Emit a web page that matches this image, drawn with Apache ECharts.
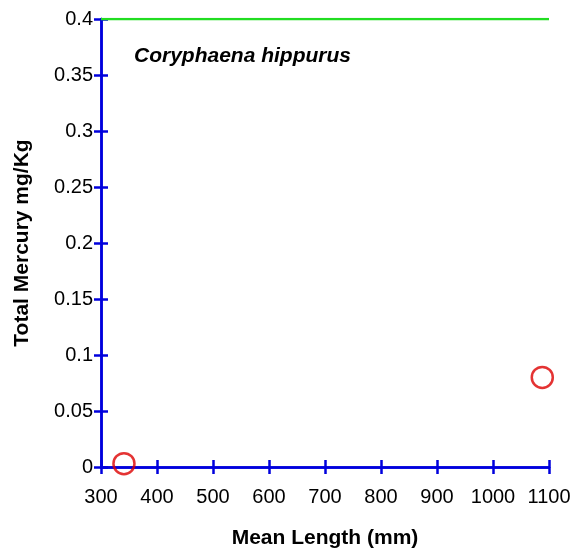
<!DOCTYPE html>
<html>
<head>
<meta charset="utf-8">
<script src="https://cdn.jsdelivr.net/npm/echarts@6/dist/echarts.min.js"></script>
<style>
  html, body { margin: 0; padding: 0; background: #fff; }
  #myChart { width: 576px; height: 550px; }
</style>
</head>
<body>
<div id="myChart"></div>
<script>
  // mean length (mm) and total mercury (mg/Kg)
  var lengths = [341, 1088];
  var mercury = [0.003, 0.08];
  var limitLine = [[300, 0.4], [1100, 0.4]];
  var xTicks = [300, 1100, 100];
  var yTicks = [0, 0.4, 0.05];

  var points = [];
  for (var i = 0; i < lengths.length; i++) {
    points.push([lengths[i], mercury[i]]);
  }

  var blue = '#0000dd';
  var font = 'Liberation Sans, Arial, sans-serif';

  function xAxis(inside, show) {
    return {
      type: 'value', min: xTicks[0], max: xTicks[1], interval: xTicks[2],
      position: 'bottom',
      name: show ? 'Mean Length (mm)' : '',
      nameLocation: 'middle', nameGap: 61,
      nameTextStyle: { fontFamily: font, fontSize: 21, fontWeight: 'bold', color: '#000' },
      axisLine: { show: true, onZero: false, lineStyle: { color: blue, width: 2.5 } },
      axisTick: { show: true, inside: inside, length: 7, lineStyle: { color: blue, width: 2.5 } },
      axisLabel: {
        show: show, margin: 20, fontFamily: font, fontSize: 20, color: '#000',
        formatter: function (v) { return String(v); }
      },
      splitLine: { show: false }
    };
  }

  function yAxis(inside, show) {
    return {
      type: 'value', min: yTicks[0], max: yTicks[1], interval: yTicks[2],
      position: 'left',
      name: show ? 'Total Mercury mg/Kg' : '',
      nameLocation: 'middle', nameGap: 68,
      nameTextStyle: { fontFamily: font, fontSize: 21, fontWeight: 'bold', color: '#000' },
      axisLine: { show: true, onZero: false, lineStyle: { color: blue, width: 2.5 } },
      axisTick: { show: true, inside: inside, length: 7, lineStyle: { color: blue, width: 2.5 } },
      axisLabel: {
        show: show, margin: 8, fontFamily: font, fontSize: 20, color: '#000',
        formatter: function (v) { return String(+v.toFixed(2)); }
      },
      splitLine: { show: false }
    };
  }

  var option = {
    animation: false,
    backgroundColor: '#fff',
    title: {
      text: 'Coryphaena hippurus',
      left: 129, top: 41,
      textStyle: { fontFamily: font, fontSize: 21, fontWeight: 'bold', fontStyle: 'italic', color: '#000' }
    },
    grid: { left: 101, right: 27, top: 19, bottom: 83, outerBoundsMode: 'none', containLabel: false },
    xAxis: [xAxis(false, true), xAxis(true, false)],
    yAxis: [yAxis(false, true), yAxis(true, false)],
    series: [
      {
        type: 'line',
        data: limitLine,
        symbol: 'none',
        lineStyle: { color: '#22dd22', width: 2.5 },
        z: 1
      },
      {
        type: 'scatter',
        data: points,
        symbol: 'circle',
        symbolSize: 21,
        itemStyle: { color: 'rgba(0,0,0,0)', borderColor: '#dd0000', borderWidth: 2.5 },
        z: 5
      }
    ]
  };

  var myChart = echarts.init(document.getElementById('myChart'));
  myChart.setOption(option);
</script>
</body>
</html>
